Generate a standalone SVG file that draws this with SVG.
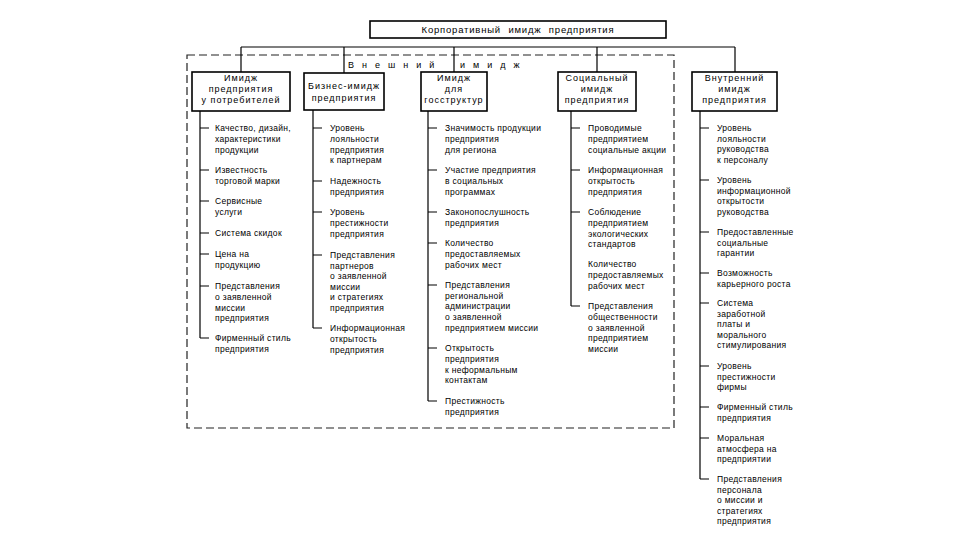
<svg xmlns="http://www.w3.org/2000/svg" width="960" height="540" viewBox="0 0 960 540">
<style>
.box{fill:#fff;stroke:#000;stroke-width:1.6}
.ln{stroke:#000;stroke-width:1.2;fill:none}
.dash{stroke:#222;stroke-width:1.2;fill:none;stroke-dasharray:8 4}
.t{font-family:"Liberation Sans",Arial,sans-serif;font-size:8.5px;fill:#000;letter-spacing:0.3px}
.lbl{font-family:"Liberation Sans",Arial,sans-serif;font-size:9px;fill:#000;letter-spacing:1px;text-anchor:middle}
.top{font-family:"Liberation Sans",Arial,sans-serif;font-size:9.5px;fill:#000;letter-spacing:0.8px;word-spacing:4px;text-anchor:middle}
.sp{font-family:"Liberation Sans",Arial,sans-serif;font-size:9px;fill:#000;letter-spacing:8px}
</style>
<rect width="960" height="540" fill="#fff"/>
<rect class="dash" x="187" y="55" width="487" height="373"/>
<text class="sp" x="348" y="68">Внешний</text>
<text class="sp" x="460" y="68">имидж</text>
<g id="connectors">
<path class="ln" d="M241,47H735M241,47V72M344,47V73M454,47V72M597,47V72M735,47V72"/>
<path class="ln" d="M200,111V338M200,128h9M200,170h9M200,201h9M200,233h9M200,254h9M200,286h9M200,338h9"/>
<path class="ln" d="M313,110V328M313,128h9M313,181h9M313,212h9M313,255h9M313,328h9"/>
<path class="ln" d="M428,111V401M428,128h9M428,170h9M428,212h9M428,243h9M428,285h9M428,348h9M428,401h9"/>
<path class="ln" d="M571,111V306M571,128h9M571,170h9M571,212h9M571,306h9"/>
<path class="ln" d="M700,111V479M700,128h9M700,180h9M700,232h9M700,273h9M700,303h9M700,366h9M700,407h9M700,438h9M700,479h9"/>
</g>
<g id="root">
<rect class="box" x="370" y="21" width="296" height="17"/>
<text class="top" x="518" y="33">Корпоративный имидж предприятия</text>
</g>
<g id="n1">
<rect class="box" x="192" y="72" width="98" height="39"/>
<text class="lbl" x="241" y="81">Имидж<tspan x="241" dy="11">предприятия</tspan><tspan x="241" dy="11">у потребителей</tspan></text>
</g>
<g id="n2">
<rect class="box" x="304" y="73" width="80" height="37"/>
<text class="lbl" x="344" y="89">Бизнес-имидж<tspan x="344" dy="12">предприятия</tspan></text>
</g>
<g id="n3">
<rect class="box" x="421" y="72" width="66" height="39"/>
<text class="lbl" x="454" y="81">Имидж<tspan x="454" dy="11">для</tspan><tspan x="454" dy="11">госструктур</tspan></text>
</g>
<g id="n4">
<rect class="box" x="558" y="72" width="78" height="39"/>
<text class="lbl" x="597" y="81">Социальный<tspan x="597" dy="11">имидж</tspan><tspan x="597" dy="11">предприятия</tspan></text>
</g>
<g id="n5">
<rect class="box" x="692" y="72" width="85" height="39"/>
<text class="lbl" x="734.5" y="81">Внутренний<tspan x="734.5" dy="11">имидж</tspan><tspan x="734.5" dy="11">предприятия</tspan></text>
</g>
<g id="c1">
<text class="t" x="215" y="131">Качество, дизайн,<tspan x="215" dy="10.8">характеристики</tspan><tspan x="215" dy="10.8">продукции</tspan></text>
<text class="t" x="215" y="173">Известность<tspan x="215" dy="10.8">торговой марки</tspan></text>
<text class="t" x="215" y="204">Сервисные<tspan x="215" dy="10.8">услуги</tspan></text>
<text class="t" x="215" y="236">Система скидок</text>
<text class="t" x="215" y="257">Цена на<tspan x="215" dy="10.8">продукцию</tspan></text>
<text class="t" x="215" y="289">Представления<tspan x="215" dy="10.8">о заявленной</tspan><tspan x="215" dy="10.8">миссии</tspan><tspan x="215" dy="10.8">предприятия</tspan></text>
<text class="t" x="215" y="341">Фирменный стиль<tspan x="215" dy="10.8">предприятия</tspan></text>
</g>
<g id="c2">
<text class="t" x="330" y="131">Уровень<tspan x="330" dy="10.8">лояльности</tspan><tspan x="330" dy="10.8">предприятия</tspan><tspan x="330" dy="10.8">к партнерам</tspan></text>
<text class="t" x="330" y="184">Надежность<tspan x="330" dy="10.8">предприятия</tspan></text>
<text class="t" x="330" y="215">Уровень<tspan x="330" dy="10.8">престижности</tspan><tspan x="330" dy="10.8">предприятия</tspan></text>
<text class="t" x="330" y="258">Представления<tspan x="330" dy="10.6">партнеров</tspan><tspan x="330" dy="10.6">о заявленной</tspan><tspan x="330" dy="10.6">миссии</tspan><tspan x="330" dy="10.6">и стратегиях</tspan><tspan x="330" dy="10.6">предприятия</tspan></text>
<text class="t" x="330" y="331">Информационная<tspan x="330" dy="10.8">открытость</tspan><tspan x="330" dy="10.8">предприятия</tspan></text>
</g>
<g id="c3">
<text class="t" x="445" y="131">Значимость продукции<tspan x="445" dy="10.8">предприятия</tspan><tspan x="445" dy="10.8">для региона</tspan></text>
<text class="t" x="445" y="173">Участие предприятия<tspan x="445" dy="10.8">в социальных</tspan><tspan x="445" dy="10.8">программах</tspan></text>
<text class="t" x="445" y="215">Законопослушность<tspan x="445" dy="10.8">предприятия</tspan></text>
<text class="t" x="445" y="246">Количество<tspan x="445" dy="10.8">предоставляемых</tspan><tspan x="445" dy="10.8">рабочих мест</tspan></text>
<text class="t" x="445" y="288">Представления<tspan x="445" dy="10.7">региональной</tspan><tspan x="445" dy="10.7">администрации</tspan><tspan x="445" dy="10.7">о заявленной</tspan><tspan x="445" dy="10.7">предприятием миссии</tspan></text>
<text class="t" x="445" y="351">Открытость<tspan x="445" dy="10.8">предприятия</tspan><tspan x="445" dy="10.8">к неформальным</tspan><tspan x="445" dy="10.8">контактам</tspan></text>
<text class="t" x="445" y="404">Престижность<tspan x="445" dy="10.8">предприятия</tspan></text>
</g>
<g id="c4">
<text class="t" x="588" y="131">Проводимые<tspan x="588" dy="10.8">предприятием</tspan><tspan x="588" dy="10.8">социальные акции</tspan></text>
<text class="t" x="588" y="173">Информационная<tspan x="588" dy="10.8">открытость</tspan><tspan x="588" dy="10.8">предприятия</tspan></text>
<text class="t" x="588" y="215">Соблюдение<tspan x="588" dy="10.8">предприятием</tspan><tspan x="588" dy="10.8">экологических</tspan><tspan x="588" dy="10.8">стандартов</tspan></text>
<text class="t" x="588" y="267">Количество<tspan x="588" dy="10.8">предоставляемых</tspan><tspan x="588" dy="10.8">рабочих мест</tspan></text>
<text class="t" x="588" y="309">Представления<tspan x="588" dy="10.8">общественности</tspan><tspan x="588" dy="10.8">о заявленной</tspan><tspan x="588" dy="10.8">предприятием</tspan><tspan x="588" dy="10.8">миссии</tspan></text>
</g>
<g id="c5">
<text class="t" x="717" y="131">Уровень<tspan x="717" dy="10.6">лояльности</tspan><tspan x="717" dy="10.6">руководства</tspan><tspan x="717" dy="10.6">к персоналу</tspan></text>
<text class="t" x="717" y="183">Уровень<tspan x="717" dy="10.6">информационной</tspan><tspan x="717" dy="10.6">открытости</tspan><tspan x="717" dy="10.6">руководства</tspan></text>
<text class="t" x="717" y="235">Предоставленные<tspan x="717" dy="10.6">социальные</tspan><tspan x="717" dy="10.6">гарантии</tspan></text>
<text class="t" x="717" y="276">Возможность<tspan x="717" dy="10.6">карьерного роста</tspan></text>
<text class="t" x="717" y="306">Система<tspan x="717" dy="10.6">заработной</tspan><tspan x="717" dy="10.6">платы и</tspan><tspan x="717" dy="10.6">морального</tspan><tspan x="717" dy="10.6">стимулирования</tspan></text>
<text class="t" x="717" y="369">Уровень<tspan x="717" dy="10.6">престижности</tspan><tspan x="717" dy="10.6">фирмы</tspan></text>
<text class="t" x="717" y="410">Фирменный стиль<tspan x="717" dy="10.6">предприятия</tspan></text>
<text class="t" x="717" y="441">Моральная<tspan x="717" dy="10.6">атмосфера на</tspan><tspan x="717" dy="10.6">предприятии</tspan></text>
<text class="t" x="717" y="482">Представления<tspan x="717" dy="10.6">персонала</tspan><tspan x="717" dy="10.6">о миссии и</tspan><tspan x="717" dy="10.6">стратегиях</tspan><tspan x="717" dy="10.6">предприятия</tspan></text>
</g>
</svg>
